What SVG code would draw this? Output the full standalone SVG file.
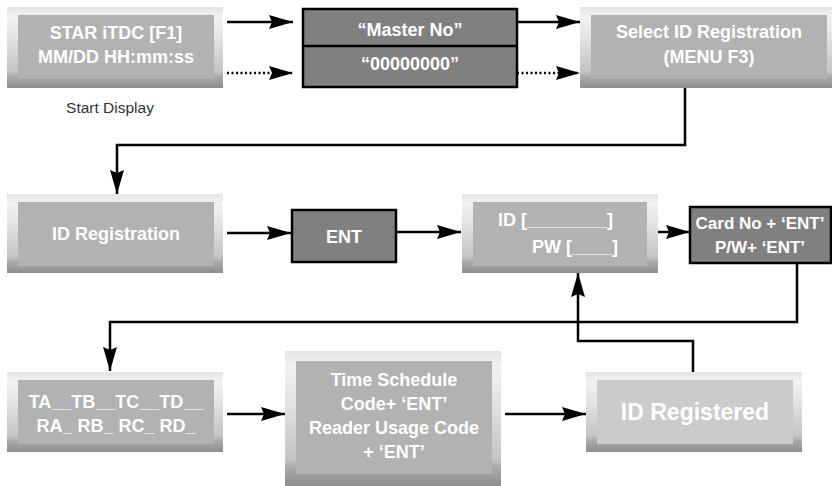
<svg xmlns="http://www.w3.org/2000/svg" width="832" height="486" viewBox="0 0 832 486">
<defs>
<linearGradient id="frame" x1="0" y1="0" x2="0" y2="1">
<stop offset="0" stop-color="#e4e4e4"/>
<stop offset="0.12" stop-color="#f2f2f2"/>
<stop offset="0.4" stop-color="#e2e2e2"/>
<stop offset="0.6" stop-color="#d2d2d2"/>
<stop offset="0.8" stop-color="#c4c4c4"/>
<stop offset="0.86" stop-color="#aaaaaa"/>
<stop offset="1" stop-color="#8e8e8e"/>
</linearGradient>
<marker id="ah" markerUnits="userSpaceOnUse" markerWidth="26" markerHeight="14" refX="24" refY="7" orient="auto">
<path d="M0,0 L24,7 L0,14 L3,7 z" fill="#000"/>
</marker>
<style>
.frame{fill:url(#frame)}
.inner{fill:#b2b2b2}
.innerL{fill:#cbcbcb}
.dark{fill:#808080;stroke:#000;stroke-width:2.5}
.t{font-family:"Liberation Sans",Arial,sans-serif;font-weight:bold;fill:#fff;text-anchor:middle;font-size:18px}
.lbl{font-family:"Liberation Sans",Arial,sans-serif;fill:#333;font-size:15.5px;text-anchor:middle}
.ln{fill:none;stroke:#000;stroke-width:2.5}
.dot{fill:none;stroke:#000;stroke-width:2.5;stroke-dasharray:2 2.5}
</style>
</defs>

<g id="connectors">
<line class="ln" x1="227" y1="22" x2="293" y2="22" marker-end="url(#ah)"/>
<line class="dot" x1="227" y1="73" x2="293" y2="73" marker-end="url(#ah)"/>
<line class="ln" x1="517" y1="22" x2="580" y2="22" marker-end="url(#ah)"/>
<line class="dot" x1="517" y1="73" x2="580" y2="73" marker-end="url(#ah)"/>
<polyline class="ln" points="685,88 685,145 117,145 117,194" marker-end="url(#ah)"/>
<line class="ln" x1="227" y1="233" x2="291" y2="233" marker-end="url(#ah)"/>
<line class="ln" x1="397" y1="232" x2="461" y2="232" marker-end="url(#ah)"/>
<line class="ln" x1="658" y1="232" x2="690" y2="232" marker-end="url(#ah)"/>
<polyline class="ln" points="797,263 797,322 110,322 110,371" marker-end="url(#ah)"/>
<line class="ln" x1="227" y1="414" x2="285" y2="414" marker-end="url(#ah)"/>
<line class="ln" x1="505" y1="414" x2="586" y2="414" marker-end="url(#ah)"/>
<polyline class="ln" points="693,372 693,341 578,341 578,273" marker-end="url(#ah)"/>
</g>

<g id="start">
<rect class="frame" x="7" y="7" width="216" height="81"/>
<rect class="inner" x="18" y="15" width="196" height="64"/>
<text class="t" x="116" y="39">STAR iTDC [F1]</text>
<text class="t" x="116" y="63">MM/DD HH:mm:ss</text>
<text class="lbl" x="110" y="113">Start Display</text>
</g>

<g id="master">
<rect class="dark" x="303" y="9" width="214" height="78"/>
<line x1="303" y1="46" x2="517" y2="46" stroke="#000" stroke-width="2.5"/>
<text class="t" x="410" y="36">“Master No”</text>
<text class="t" x="410" y="70">“00000000”</text>
</g>

<g id="select">
<rect class="frame" x="580" y="7" width="252" height="81"/>
<rect class="inner" x="591" y="15" width="236" height="64"/>
<text class="t" x="709" y="38">Select ID Registration</text>
<text class="t" x="709" y="63">(MENU F3)</text>
</g>

<g id="idreg">
<rect class="frame" x="7" y="194" width="216" height="79"/>
<rect class="inner" x="18" y="202" width="196" height="64"/>
<text class="t" x="116" y="240">ID Registration</text>
</g>

<g id="ent">
<rect class="dark" x="292" y="210" width="104" height="52"/>
<text class="t" x="344" y="243">ENT</text>
</g>

<g id="idpw">
<rect class="frame" x="462" y="194" width="196" height="79"/>
<rect class="inner" x="473" y="202" width="174" height="64"/>
<text class="t" x="613" y="226" style="text-anchor:end">ID [________]</text>
<text class="t" x="618" y="253" style="text-anchor:end">PW [____]</text>
</g>

<g id="card">
<rect class="dark" x="690" y="207" width="141" height="56"/>
<text class="t" x="760" y="229" style="font-size:17px">Card No + ‘ENT’</text>
<text class="t" x="760" y="253" style="font-size:17px">P/W+ ‘ENT’</text>
</g>

<g id="tatb">
<rect class="frame" x="7" y="372" width="216" height="80"/>
<rect class="inner" x="18" y="380" width="196" height="64"/>
<text class="t" x="116" y="408">TA__TB__TC__TD__</text>
<text class="t" x="116" y="432">RA_ RB_ RC_ RD_</text>
</g>

<g id="schedule">
<rect class="frame" x="285" y="351" width="216" height="135"/>
<rect class="inner" x="296" y="361" width="196" height="113"/>
<text class="t" x="394" y="386">Time Schedule</text>
<text class="t" x="394" y="410">Code+ ‘ENT’</text>
<text class="t" x="394" y="434">Reader Usage Code</text>
<text class="t" x="394" y="458">+ ‘ENT’</text>
</g>

<g id="registered">
<rect class="frame" x="586" y="372" width="216" height="80"/>
<rect class="innerL" x="597" y="380" width="196" height="64"/>
<text class="t" x="695" y="420" style="font-size:23px">ID Registered</text>
</g>
</svg>
